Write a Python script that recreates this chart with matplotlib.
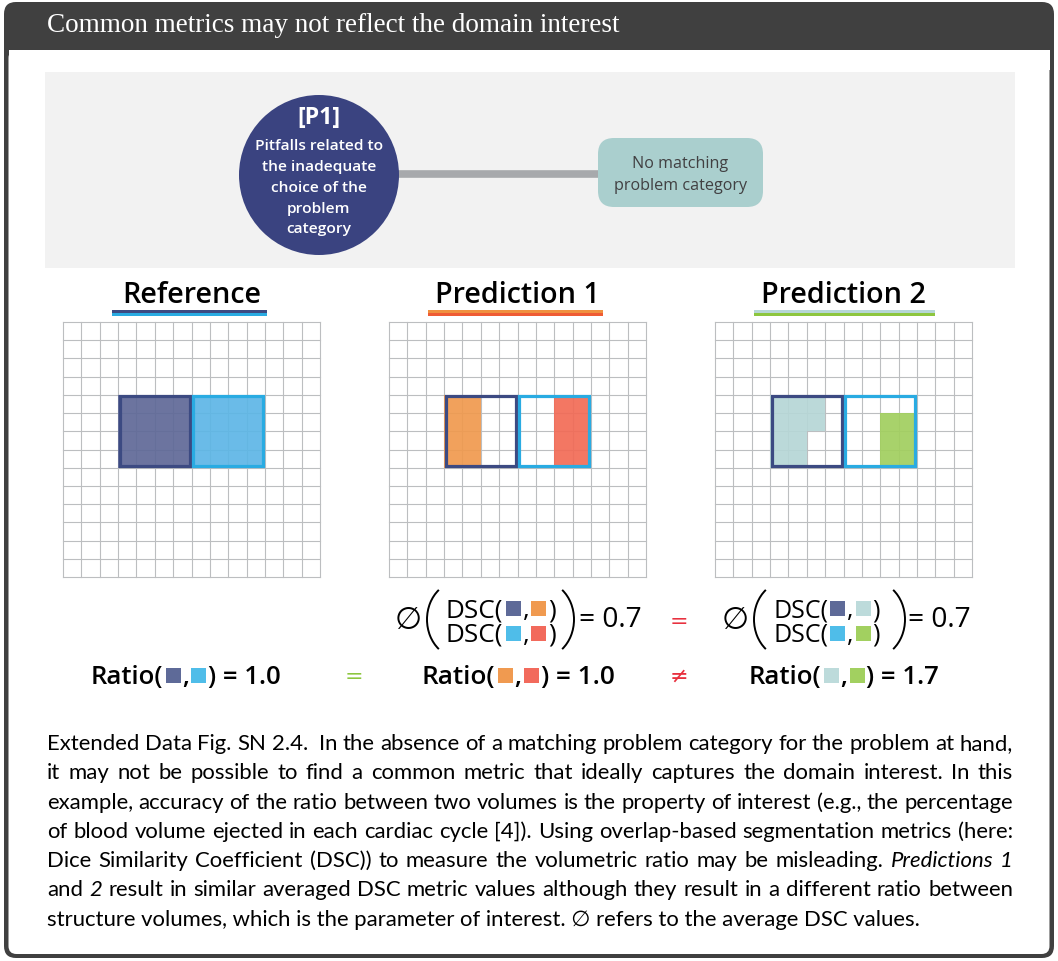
import math
import matplotlib
matplotlib.use("Agg")
import matplotlib.pyplot as plt
from matplotlib.patches import Rectangle, FancyBboxPatch, Circle, Arc

# ---------------- data ----------------
GRID_N = 14
panel_titles = ["Reference", "Prediction 1", "Prediction 2"]
# reference structure outlines (col, row, width, height) in grid cells
struct_a = (3, 4, 4, 4)
struct_b = (7, 4, 4, 4)
# filled cells per panel (col, row, width, height)
ref_fill_a = [(3, 4, 4, 4)]
ref_fill_b = [(7, 4, 4, 4)]
pred1_fill_a = [(3, 4, 2, 4)]
pred1_fill_b = [(9, 4, 2, 4)]
pred2_fill_a = [(3, 4, 3, 2), (3, 6, 2, 2)]
pred2_fill_b = [(9, 5, 2, 3)]
dsc_values = [0.7, 0.7]
ratio_values = [1.0, 1.0, 1.7]

header_title = "Common metrics may not reflect the domain interest"
circle_head = "[P1]"
circle_lines = ["Pitfalls related to", "the inadequate", "choice of the", "problem", "category"]
box_lines = ["No matching", "problem category"]
caption_lines = [
    [("Extended Data Fig. SN 2.4.", 0), ("", 0), ("In the absence of a matching problem category for the problem at hand,", 0)],
    [("it may not be possible to find a common metric that ideally captures the domain interest. In this", 0)],
    [("example, accuracy of the ratio between two volumes is the property of interest (e.g., the percentage", 0)],
    [("of blood volume ejected in each cardiac cycle [4]). Using overlap-based segmentation metrics (here:", 0)],
    [("Dice Similarity Coefficient (DSC)) to measure the volumetric ratio may be misleading.", 0), ("Predictions 1", 1)],
    [("and", 0), ("2", 1), ("result in similar averaged DSC metric values although they result in a different ratio between", 0)],
    [("structure volumes, which is the parameter of interest. \u2205 refers to the average DSC values.", 0)],
]

# ---------------- colours ----------------
DARK = "#404040"
NAVY_LINE = "#3C4A82"
NAVY_FILL = "#5F6897"
BLUE_LINE = "#29ABE2"
BLUE_FILL = "#5DB6E6"
ORANGE = "#F0994E"
RED = "#F26B56"
TEAL = "#B6D6D6"
GREEN = "#A1CF5E"
SQ_NAVY = "#5E6A98"
SQ_BLUE = "#4FBDE9"
SQ_ORANGE = "#F09A50"
SQ_RED = "#F26A5C"
SQ_TEAL = "#BDDBDB"
SQ_GREEN = "#A2D060"
GRID_C = "#BCBEC0"

W, H = 1058, 961
fig = plt.figure(figsize=(W / 100, H / 100), dpi=100)
ax = fig.add_axes([0, 0, 1, 1])
ax.set_xlim(0, W)
ax.set_ylim(H, 0)
ax.axis("off")
fig.canvas.draw()
R = fig.canvas.get_renderer()

SANS = ["Open Sans", "DejaVu Sans"]
CAP = ["Lato", "DejaVu Sans"]
SERIF = ["Liberation Serif", "DejaVu Serif"]
SEMI = 600


def text_w(s, **kw):
    t = ax.text(0, 0, s, **kw)
    w = t.get_window_extent(R).width
    t.remove()
    return w


def fit_fs(s, target, fs0=20, **kw):
    return fs0 * target / text_w(s, fontsize=fs0, **kw)


# ---------------- frame ----------------
ax.add_patch(FancyBboxPatch((4, 2), 1050, 956, boxstyle="round,pad=0,rounding_size=12",
                            fc=DARK, ec="none", zorder=0))
ax.add_patch(FancyBboxPatch((8.5, 50), 1041, 904, boxstyle="round,pad=0,rounding_size=8",
                            fc="white", ec="none", zorder=0.1))
ax.add_patch(Rectangle((8.5, 50), 1041, 20, fc="white", ec="none", zorder=0.2))
fs = fit_fs(header_title, 573, family=SERIF)
ax.text(47, 32, header_title, fontsize=fs, family=SERIF, color="white", va="baseline", ha="left")

# ---------------- diagram panel ----------------
ax.add_patch(Rectangle((45, 72), 970, 196, fc="#F2F2F2", ec="none", zorder=0.5))
ax.plot([395, 605], [174, 174], color="#A7A9AC", lw=5.5, solid_capstyle="butt", zorder=1)
ax.add_patch(Circle((319, 175), 80, fc="#3A4380", ec="none", zorder=2))
ax.add_patch(FancyBboxPatch((598, 138), 165, 69, boxstyle="round,pad=0,rounding_size=16",
                            fc="#AACFCE", ec="none", zorder=2))
fs = fit_fs(circle_head, 43, family=SANS, fontweight="bold")
ax.text(319, 124, circle_head, fontsize=fs, family=SANS, fontweight="bold", color="white",
        ha="center", va="baseline", zorder=3)
fs = fit_fs(circle_lines[0], 127, family=SANS, fontweight=SEMI)
for i, s in enumerate(circle_lines):
    ax.text(319, 149.5 + 21 * i, s, fontsize=fs, family=SANS, fontweight=SEMI, color="white",
            ha="center", va="baseline", zorder=3)
fs = fit_fs(box_lines[1], 133, family=SANS)
for i, s in enumerate(box_lines):
    ax.text(680.5, 168 + 21.5 * i, s, fontsize=fs, family=SANS, color="#414042",
            ha="center", va="baseline", zorder=3)

# ---------------- grids ----------------
grid_x0 = [63, 389, 715]
GY0, GY1, GW = 322, 577, 257
fills = [(ref_fill_a, ref_fill_b, NAVY_FILL, BLUE_FILL),
         (pred1_fill_a, pred1_fill_b, ORANGE, RED),
         (pred2_fill_a, pred2_fill_b, TEAL, GREEN)]
underlines = [((112, 267), NAVY_LINE, BLUE_LINE),
              ((428, 603), "#F0903F", "#EF5B34"),
              ((754, 935), TEAL, "#8DC63F")]
title_fs = fit_fs("Prediction 1", 165, family=SANS, fontweight=SEMI)
for p in range(3):
    x0 = grid_x0[p]
    g = fig.add_axes([x0 / W, 1 - GY1 / H, GW / W, (GY1 - GY0) / H])
    g.set_xlim(0, GRID_N)
    g.set_ylim(GRID_N, 0)
    g.axis("off")
    for k in range(GRID_N + 1):
        g.plot([k, k], [0, GRID_N], color=GRID_C, lw=0.8, zorder=1, clip_on=False)
        g.plot([0, GRID_N], [k, k], color=GRID_C, lw=0.8, zorder=1, clip_on=False)
    fa, fb, ca, cb = fills[p]
    for (c, r, w, h) in fa:
        g.add_patch(Rectangle((c, r), w, h, fc=ca, ec="none", alpha=0.92, zorder=2))
    for (c, r, w, h) in fb:
        g.add_patch(Rectangle((c, r), w, h, fc=cb, ec="none", alpha=0.92, zorder=2))
    d = 0.08
    for (c, r, w, h), col in ((struct_a, NAVY_LINE), (struct_b, BLUE_LINE)):
        g.add_patch(Rectangle((c + d, r + d), w - 2 * d, h - 2 * d, fc="none", ec=col,
                              lw=2.3, zorder=3, clip_on=False))
    cx = x0 + GW / 2
    ax.text(cx, 303, panel_titles[p], fontsize=title_fs, family=SANS, fontweight=SEMI,
            color="black", ha="center", va="baseline")
    (ux0, ux1), c1, c2 = underlines[p]
    ax.add_patch(Rectangle((ux0, 310), ux1 - ux0, 3.3, fc=c1, ec="none"))
    ax.add_patch(Rectangle((ux0, 313.3), ux1 - ux0, 3.2, fc=c2, ec="none"))

# ---------------- formulas ----------------
SQ = 15
SQ_GAP = 2


def run_width(items, fs):
    w = 0
    for it in items:
        if it[0] == "t":
            w += text_w(it[1], fontsize=fs, **it[2])
        else:
            w += SQ + 2 * SQ_GAP
    return w


def draw_run(x0, base, items, fs):
    x = x0
    for it in items:
        if it[0] == "t":
            t = ax.text(x, base, it[1], fontsize=fs, va="baseline", ha="left", **it[2])
            x += t.get_window_extent(R).width
        else:
            ax.add_patch(Rectangle((x + SQ_GAP, base - 1 - SQ), SQ, SQ, fc=it[1], ec="none"))
            x += SQ + 2 * SQ_GAP
    return x


def fit_run(items, target, fs0=20):
    wt = run_width([i for i in items if i[0] == "t"], fs0)
    ws = sum(SQ + 2 * SQ_GAP for i in items if i[0] == "s")
    return fs0 * (target - ws) / wt


B = dict(family=SANS, fontweight=SEMI, color="black")
Rg = dict(family=SANS, color="black")

ratio_pairs = [(SQ_NAVY, SQ_BLUE), (SQ_ORANGE, SQ_RED), (SQ_TEAL, SQ_GREEN)]
ratio_x = [(91, 281), (422, 614), (749, 940)]
for p in range(3):
    a, b = ratio_pairs[p]
    items = [("t", "Ratio(", B), ("s", a), ("t", ",", B), ("s", b),
             ("t", ") = %.1f" % ratio_values[p], B)]
    fsr = fit_run(items, ratio_x[p][1] - ratio_x[p][0])
    draw_run(ratio_x[p][0], 684, items, fsr)

dsc_pairs = [[(SQ_NAVY, SQ_ORANGE), (SQ_BLUE, SQ_RED)],
             [(SQ_NAVY, SQ_TEAL), (SQ_BLUE, SQ_GREEN)]]
avg_x = [395, 722]
lpar_x = [427, 754]
dsc_x = [(446, 556), (773, 880)]
rpar_x = [574, 905]
eq_x = [579, 908]
PY0, PY1 = 588, 651
fse = fit_fs("= 0.7", 63, family=SANS)
fsa = fit_fs("\u2205", 27, family=["DejaVu Sans"])
for p in range(2):
    ax.text(avg_x[p], 629, "\u2205", fontsize=fsa, family=["DejaVu Sans"], color="black",
            ha="left", va="baseline")
    for li, (a, b) in enumerate(dsc_pairs[p]):
        items = [("t", "DSC(", Rg), ("s", a), ("t", ",", Rg), ("s", b), ("t", ")", Rg)]
        fsd = fit_run(items, dsc_x[p][1] - dsc_x[p][0])
        draw_run(dsc_x[p][0], 617 + 25 * li, items, fsd)
    # parentheses drawn as elliptic arcs
    pw, ph = 14, (PY1 - PY0) / 2
    rx = 32
    t = math.degrees(math.acos(1 - pw / rx))
    ry = ph / math.sin(math.radians(t))
    yc = (PY0 + PY1) / 2
    ax.add_patch(Arc((lpar_x[p] + rx, yc), 2 * rx, 2 * ry, theta1=180 - t, theta2=180 + t,
                     color="black", lw=1.4))
    ax.add_patch(Arc((rpar_x[p] - rx, yc), 2 * rx, 2 * ry, theta1=-t, theta2=t,
                     color="black", lw=1.4))
    s = "= %.1f" % dsc_values[p]
    ax.text(eq_x[p], 627, s, fontsize=fse, family=SANS, color="black", ha="left", va="baseline")

# relation symbols
ax.text(354, 677, "=", fontsize=16, family=["DejaVu Sans"], color="#8DC63F", ha="center", va="center")
ax.text(679, 622, "=", fontsize=16, family=["DejaVu Sans"], color="#E8313F", ha="center", va="center")
ax.text(679, 677, "\u2260", fontsize=16, family=["DejaVu Sans"], color="#E8313F", ha="center", va="center")

# ---------------- caption (justified) ----------------
CX0, CX1 = 47, 1013
last = caption_lines[-1][0][0]
cfs = fit_fs(last, 878, family=CAP)
base0, lstep = 750, 29.3
for li, segs in enumerate(caption_lines):
    words = []
    for txt, it in segs:
        if txt == "":
            words.append(("", it))
            continue
        for w in txt.split(" "):
            words.append((w, it))
    base = base0 + lstep * li
    if li == len(caption_lines) - 1:
        ax.text(CX0, base, last, fontsize=cfs, family=CAP, color="black", ha="left", va="baseline")
        continue
    widths = [text_w(w, fontsize=cfs, family=CAP, style="italic" if it else "normal") if w else 0
              for w, it in words]
    ngaps = len(words) - 1
    gap = (CX1 - CX0 - sum(widths)) / ngaps
    x = CX0
    for (w, it), ww in zip(words, widths):
        if w:
            ax.text(x, base, w, fontsize=cfs, family=CAP, color="black", ha="left", va="baseline",
                    style="italic" if it else "normal")
        x += ww + gap

fig.savefig("out.png", dpi=100)
